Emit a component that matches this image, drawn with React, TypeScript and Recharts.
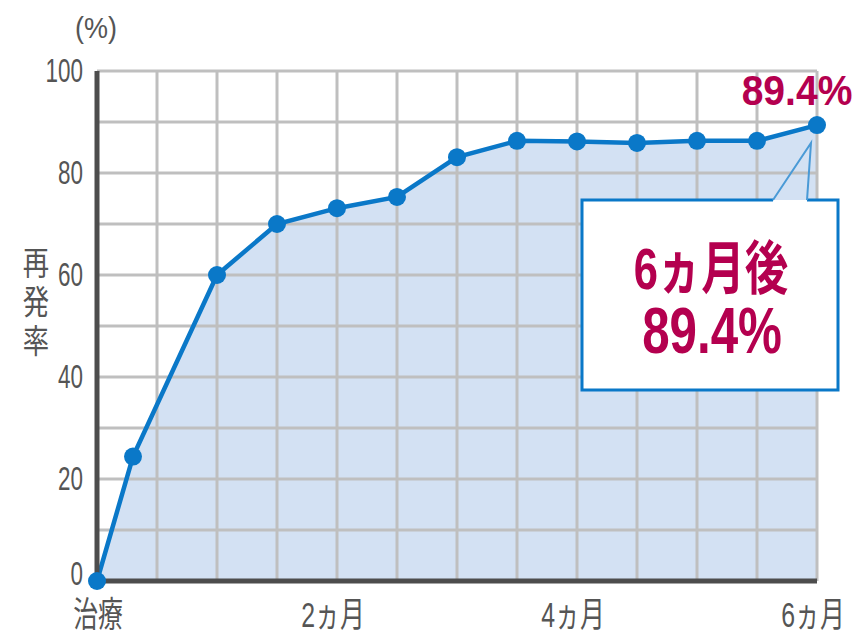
import React from 'react';
import { AreaChart, Area, LineChart, Line, XAxis, YAxis, CartesianGrid } from 'recharts';

// months after treatment and cumulative recurrence rate (%)
const months = [0, 0.3, 1, 1.5, 2, 2.5, 3, 3.5, 4, 4.5, 5, 5.5, 6];
const rates = [0, 24.4, 60, 70, 73.1, 75.3, 83.1, 86.3, 86.2, 85.9, 86.3, 86.3, 89.4];

const xTicks = [0, 0.5, 1, 1.5, 2, 2.5, 3, 3.5, 4, 4.5, 5, 5.5, 6];
const xTickLabels: Record<number, string> = { 0: '治療', 2: '2ヵ月', 4: '4ヵ月', 6: '6ヵ月' };
const yTicks = [0, 10, 20, 30, 40, 50, 60, 70, 80, 90, 100];
const yLabelled = [0, 20, 40, 60, 80, 100];

const calloutTitle = '6ヵ月後';
const unitLabel = '(%)';
const yTitle = '再発率';

const data = months.map((m, i) => ({ month: m, rate: rates[i] }));

const W = 858;
const H = 633;
const BLUE = '#0a78c8';
const RED = '#b4004f';
const TXT = '#555';
const FONT = "'Liberation Sans', 'Noto Sans CJK JP', sans-serif";

function XTick({ x, y, payload }: any) {
  const label = xTickLabels[payload.value];
  if (!label) return <g />;
  const dx = payload.value === 0 ? 1 : -4;
  return (
    <text transform={`translate(${x + dx},${y + 46}) scale(0.71,1)`} textAnchor="middle"
      fontSize={35} fill={TXT} fontFamily={FONT}>
      {label}
    </text>
  );
}

function YTick({ x, y, payload }: any) {
  if (!yLabelled.includes(payload.value)) return <g />;
  const dy = payload.value === 0 ? -8 : -1;
  return (
    <text transform={`translate(${x - 14},${y + dy}) scale(0.66,1)`} textAnchor="end"
      dominantBaseline="central" fontSize={34} fill={TXT} fontFamily={FONT}>
      {payload.value}
    </text>
  );
}

const renderAxisTitle = (props: any) => {
  const vb = props.viewBox || { x: 0, y: 71, width: 97 };
  return (
    <g>
      <text transform={`translate(${vb.x + vb.width - 1},${vb.y - 33}) scale(0.9,1)`} textAnchor="middle"
        fontSize={30} fill={TXT} fontFamily={FONT}>
        {unitLabel}
      </text>
      <text transform={`translate(${vb.x + 36},${vb.y + 175}) scale(0.85,1.08)`}
        style={{ writingMode: 'vertical-rl' }} letterSpacing={5}
        fontSize={31} fill={TXT} fontFamily="'Noto Sans CJK JP', sans-serif">
        {yTitle}
      </text>
    </g>
  );
};

const last = months.length - 1;

const renderCallout = (props: any) => {
  const { x, y, index, value } = props;
  if (index !== last && !(index === undefined && value === rates[last])) return null;
  return (
    <g>
      <text transform={`translate(${x - 20},${y - 20}) scale(0.93,1)`} textAnchor="middle"
        fontSize={42} fontWeight="bold" fill={RED} fontFamily={FONT}>
        {rates[last]}%
      </text>
      <path d={`M ${x - 44} ${y + 75} H ${x - 235} V ${y + 265} H ${x + 21} V ${y + 75} H ${x - 10}`}
        fill="#fff" stroke={BLUE} strokeWidth={3} />
      <path d={`M ${x - 44} ${y + 75} L ${x - 6} ${y + 18} L ${x - 10} ${y + 75}`}
        fill="none" stroke="#4a9ad6" strokeWidth={2} />
      <text transform={`translate(${x - 106},${y + 164}) scale(0.75,1)`} textAnchor="middle"
        fontSize={58} fontWeight="bold" fill={RED} fontFamily={FONT}>
        {calloutTitle}
      </text>
      <text transform={`translate(${x - 105},${y + 228}) scale(0.77,1)`} textAnchor="middle"
        fontSize={64} fontWeight="bold" fill={RED} fontFamily={FONT}>
        {rates[last]}%
      </text>
    </g>
  );
};

export default function App() {
  return (
    <div style={{ position: 'absolute', left: 0, top: 0, width: W, height: H, background: '#fff' }}>
      {/* filled area underneath, so the grid can sit on top of it */}
      <div style={{ position: 'absolute', left: 0, top: 0 }}>
        <AreaChart width={W} height={H} data={data} margin={{ top: 71, right: 41, left: 97, bottom: 52 }}>
          <XAxis hide type="number" dataKey="month" domain={[0, 6]} />
          <YAxis hide domain={[0, 100]} />
          <Area type="linear" dataKey="rate" fill="#d3e1f3" fillOpacity={1} stroke="none" isAnimationActive={false} />
        </AreaChart>
      </div>
      <div style={{ position: 'absolute', left: 0, top: 0 }}>
        <LineChart width={W} height={H} data={data} margin={{ top: 71, right: 41, left: 0, bottom: 0 }}>
          <CartesianGrid stroke="#bfbfbf" strokeWidth={3} horizontalValues={yTicks} verticalValues={xTicks} />
          <XAxis type="number" dataKey="month" domain={[0, 6]} ticks={xTicks} interval={0} height={52}
            axisLine={{ stroke: '#4d4d4d', strokeWidth: 5 }} tickLine={false} tickSize={0} tickMargin={0}
            tick={<XTick />} />
          <YAxis domain={[0, 100]} ticks={yTicks} interval={0} width={97}
            axisLine={{ stroke: '#4d4d4d', strokeWidth: 5 }} tickLine={false} tickSize={0} tickMargin={0}
            tick={<YTick />} label={{ content: renderAxisTitle }} />
          <Line type="linear" dataKey="rate" stroke={BLUE} strokeWidth={4.5}
            dot={{ r: 9, fill: BLUE, stroke: 'none' }} activeDot={false}
            label={renderCallout} isAnimationActive={false} />
        </LineChart>
      </div>
    </div>
  );
}
